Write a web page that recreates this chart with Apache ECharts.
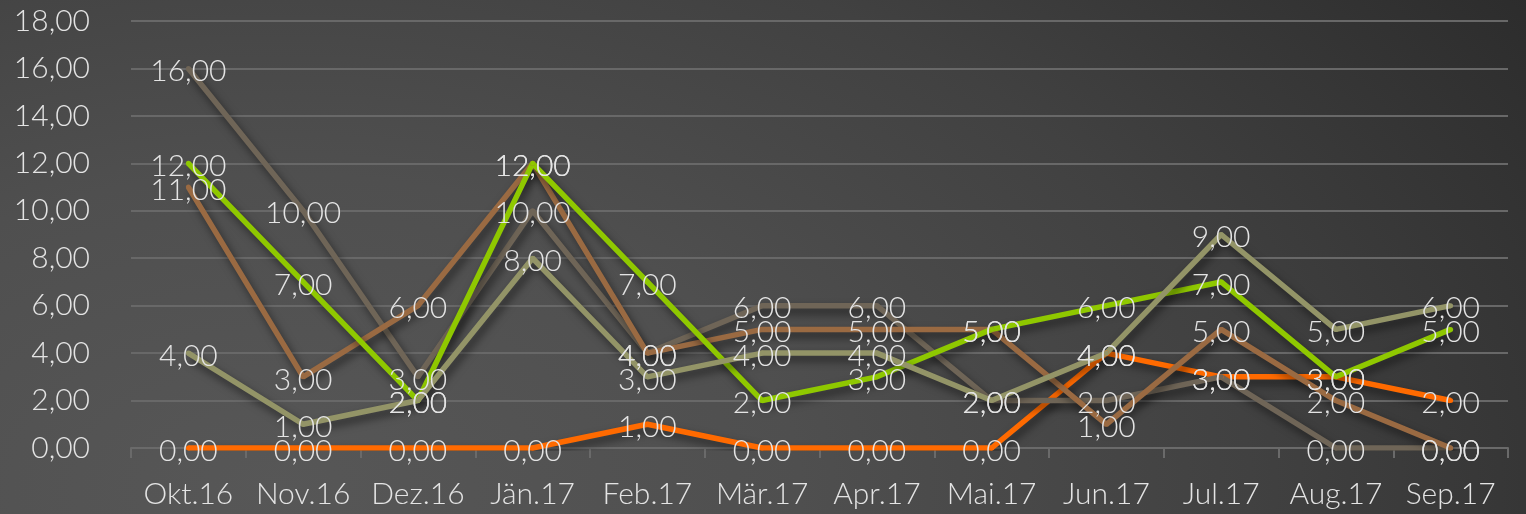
<!DOCTYPE html>
<html>
<head>
<meta charset="utf-8">
<script src="https://cdn.jsdelivr.net/npm/echarts@6/dist/echarts.min.js"></script>
<style>
html,body{margin:0;padding:0;}
body{width:1526px;height:514px;background:radial-gradient(ellipse 1500px 900px at 18% 95%, #575757 0%, #4f4f4f 35%, #414141 65%, #2c2c2c 100%);}
#c{width:1526px;height:514px;}
</style>
</head>
<body>
<div id="c"></div>
<script>
const categories = ['Okt.16','Nov.16','Dez.16','Jän.17','Feb.17','Mär.17','Apr.17','Mai.17','Jun.17','Jul.17','Aug.17','Sep.17'];
const orangeValues = [0,0,0,0,1,0,0,0,4,3,3,2];
const taupeValues  = [16,10,3,10,4,6,6,2,2,3,0,0];
const brownValues  = [11,3,6,12,4,5,5,5,1,5,2,0];
const greenValues  = [12,7,2,12,7,2,3,5,6,7,3,5];
const oliveValues  = [4,1,2,8,3,4,4,2,4,9,5,6];
const yTicks = [0,2,4,6,8,10,12,14,16,18];

const fmt = v => Number(v).toFixed(2).replace('.', ',');
const FONT = 'Lato, "Open Sans", sans-serif';
const TXT = '#e4e4e4';
const FS = 30;
const FW = 300;

function mk(name, data, color) {
  return {
    name, type: 'line', data,
    symbol: 'circle', symbolSize: 5,
    itemStyle: { color: color, borderWidth: 0 },
    lineStyle: { color: color, width: 5.5, shadowColor: 'rgba(0,0,0,0.55)', shadowBlur: 8, shadowOffsetX: 3, shadowOffsetY: 5 },
    label: {
      show: true, position: 'inside', offset: [0, 3],
      color: TXT, fontFamily: FONT, fontSize: FS, fontWeight: FW,
      formatter: p => fmt(p.value)
    },
    emphasis: { disabled: true },
    animation: false
  };
}

const chart = echarts.init(document.getElementById('c'), null, { renderer: 'canvas' });
chart.setOption({
  backgroundColor: 'transparent',
  animation: false,
  grid: { left: 131, right: 18, top: 21, bottom: 66, containLabel: false },
  xAxis: {
    type: 'category', data: categories, boundaryGap: true,
    axisLine: { show: true, lineStyle: { color: '#6a6a6a', width: 2 } },
    axisTick: { show: true, length: 10, alignWithLabel: false, lineStyle: { color: '#6a6a6a', width: 2 } },
    axisLabel: { color: TXT, fontFamily: FONT, fontSize: FS, fontWeight: FW, margin: 31, interval: 0 },
    splitLine: { show: false }
  },
  yAxis: {
    type: 'value', min: yTicks[0], max: yTicks[yTicks.length - 1], interval: 2,
    axisLine: { show: false }, axisTick: { show: false },
    axisLabel: { color: TXT, fontFamily: FONT, fontSize: FS, fontWeight: FW, margin: 41, formatter: v => fmt(v) },
    splitLine: { show: true, lineStyle: { color: '#686868', width: 2 } }
  },
  series: [
    mk('A', orangeValues, '#ff6a00'),
    mk('B', taupeValues, '#6f6557'),
    mk('C', brownValues, '#9a6a42'),
    mk('D', greenValues, '#8fc800'),
    mk('E', oliveValues, '#939467')
  ]
});
</script>
</body>
</html>
